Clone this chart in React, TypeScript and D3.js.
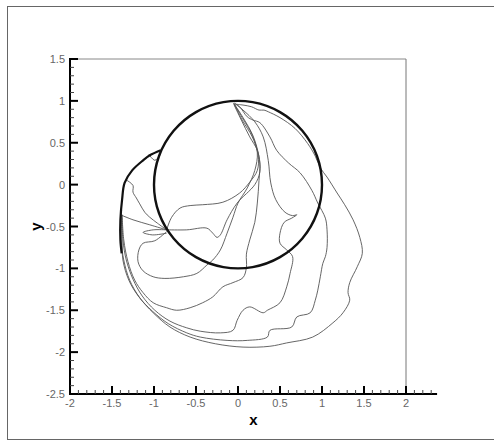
import React from "react";
import * as d3 from "d3";

// tick values
const xTicks = [-2, -1.5, -1, -0.5, 0, 0.5, 1, 1.5, 2];
const yTicks = [-2.5, -2, -1.5, -1, -0.5, 0, 0.5, 1, 1.5];

// body outline (thick)
const cylinder: [number, number][] = [
  [1.0, 0], [0.94, 0.342], [0.766, 0.643], [0.5, 0.866], [0.174, 0.985],
  [-0.174, 0.985], [-0.5, 0.866], [-0.766, 0.643], [-0.94, 0.342], [-1.0, 0],
  [-0.94, -0.342], [-0.766, -0.643], [-0.5, -0.866], [-0.174, -0.985],
  [0.174, -0.985], [0.5, -0.866], [0.766, -0.643], [0.94, -0.342],
];

// left shock front (thick)
const shockFront: [number, number][] = [
  [-0.92, 0.41], [-1.05, 0.35], [-1.13, 0.29], [-1.26, 0.17], [-1.35, 0.02],
  [-1.38, -0.18], [-1.4, -0.42], [-1.4, -0.66], [-1.385, -0.82],
];

// thin contour lines
const contourOuter: [number, number][] = [
  [-1.385, -0.3], [-1.39, -0.66], [-1.36, -0.9], [-1.29, -1.14], [-1.17, -1.35],
  [-1.01, -1.53], [-0.81, -1.7], [-0.57, -1.82], [-0.27, -1.9], [0.06, -1.94],
  [0.38, -1.93], [0.58, -1.89], [0.89, -1.82], [1.13, -1.65], [1.25, -1.53],
  [1.33, -1.38], [1.31, -1.29], [1.33, -1.17], [1.42, -0.98], [1.48, -0.82],
  [1.45, -0.63], [1.37, -0.42], [1.27, -0.24], [1.18, -0.1], [1.06, 0.09],
  [0.98, 0.2], [0.92, 0.34], [0.83, 0.49], [0.68, 0.67], [0.5, 0.8], [0.36, 0.87],
  [0.31, 0.89], [0.25, 0.89], [0.16, 0.93], [0.06, 0.95], [-0.03, 0.96],
];

const contourB: [number, number][] = [
  [-1.39, -0.36], [-1.38, -0.66], [-1.37, -0.9], [-1.3, -1.14], [-1.18, -1.34],
  [-1.02, -1.51], [-0.83, -1.66], [-0.61, -1.77], [-0.45, -1.82], [-0.13, -1.86],
  [0.11, -1.86], [0.35, -1.82], [0.38, -1.74], [0.64, -1.7], [0.7, -1.58],
  [0.86, -1.53], [0.92, -1.38], [0.95, -1.26], [0.98, -1.1], [1.01, -0.94],
  [1.04, -0.86], [1.06, -0.75], [1.06, -0.54], [1.04, -0.4], [0.95, -0.22],
  [0.88, -0.07], [0.74, 0.14], [0.6, 0.26], [0.46, 0.41], [0.38, 0.57],
  [0.26, 0.74], [0.18, 0.77], [0.11, 0.81], [0.02, 0.93], [-0.04, 0.97],
];

const contourC: [number, number][] = [
  [-0.04, 0.97], [0.06, 0.89], [0.2, 0.75], [0.3, 0.57], [0.36, 0.29],
  [0.39, 0.02], [0.45, -0.18], [0.56, -0.33], [0.65, -0.37], [0.7, -0.36],
  [0.64, -0.4], [0.55, -0.45], [0.5, -0.58], [0.5, -0.7], [0.58, -0.78],
  [0.65, -0.86], [0.62, -1.06], [0.58, -1.22], [0.5, -1.41], [0.35, -1.5],
  [0.3, -1.53], [0.14, -1.46], [0.06, -1.5], [-0.01, -1.62], [-0.06, -1.74],
  [-0.21, -1.77], [-0.45, -1.75], [-0.61, -1.71], [-0.81, -1.63], [-0.99, -1.5],
  [-1.14, -1.33], [-1.25, -1.13], [-1.33, -0.9], [-1.37, -0.66], [-1.38, -0.36],
];

const contourD: [number, number][] = [
  [-1.38, -0.36], [-1.36, -0.66], [-1.31, -0.92], [-1.23, -1.14], [-1.13, -1.29],
  [-1.01, -1.41], [-0.85, -1.47], [-0.73, -1.5], [-0.57, -1.47], [-0.42, -1.41],
  [-0.3, -1.34], [-0.18, -1.22], [-0.06, -1.17], [0.06, -1.11], [0.1, -0.99],
  [0.1, -0.83], [0.14, -0.66], [0.2, -0.45], [0.23, -0.22], [0.25, 0.05],
  [0.26, 0.26], [0.23, 0.41], [0.14, 0.57], [0.04, 0.77], [-0.05, 0.96],
];

const contourE: [number, number][] = [
  [-0.05, 0.97], [0.05, 0.77], [0.17, 0.57], [0.23, 0.38], [0.2, 0.17],
  [0.11, -0.04], [0.0, -0.22], [-0.06, -0.39], [-0.13, -0.58], [-0.21, -0.78],
  [-0.3, -0.9], [-0.37, -0.96], [-0.49, -1.06], [-0.65, -1.1], [-0.87, -1.12],
  [-1.01, -1.1], [-1.13, -1.03], [-1.19, -0.92], [-1.18, -0.78], [-1.13, -0.7],
  [-0.99, -0.67], [-0.85, -0.56],
];

const contourF: [number, number][] = [
  [-0.05, 0.97], [0.05, 0.8], [0.17, 0.59], [0.24, 0.35], [0.23, 0.17],
  [0.14, 0.03], [0.02, -0.1], [-0.18, -0.21], [-0.42, -0.24], [-0.57, -0.25],
  [-0.69, -0.28], [-0.79, -0.39], [-0.85, -0.54],
];

const contourG: [number, number][] = [
  [-0.05, 0.97], [0.06, 0.8], [0.18, 0.58], [0.25, 0.33], [0.26, 0.15],
  [0.2, 0.0], [-0.01, -0.22], [-0.13, -0.42], [-0.21, -0.6], [-0.25, -0.63],
  [-0.3, -0.58], [-0.37, -0.52], [-0.61, -0.54], [-0.84, -0.54],
];

const contourH: [number, number][] = [
  [-1.4, -0.36], [-1.25, -0.42], [-1.05, -0.48], [-0.85, -0.54],
];

const contourI: [number, number][] = [
  [-1.32, 0.05], [-1.25, -0.01], [-1.25, -0.09], [-1.21, -0.16], [-1.17, -0.23],
  [-1.11, -0.33], [-1.05, -0.39], [-0.96, -0.46], [-0.85, -0.54],
];

const contourLoop: [number, number][] = [
  [-0.85, -0.54], [-1.01, -0.54], [-1.13, -0.57], [-1.02, -0.6], [-0.85, -0.58],
];

const contourTop: [number, number][] = [
  [-1.06, 0.36], [-0.99, 0.29], [-0.93, 0.35],
];

const contours = [
  contourOuter, contourB, contourC, contourD, contourE, contourF,
  contourG, contourH, contourI, contourLoop, contourTop,
];

const W = 494;
const H = 440;
const font = "'Liberation Sans', Arial, sans-serif";

export default function App() {
  const x = d3.scaleLinear().domain([-2, 2]).range([70, 406]);
  const y = d3.scaleLinear().domain([-2.5, 1.5]).range([394, 59]);
  const xEnd = x(2.37);

  const line = d3
    .line<[number, number]>()
    .x((d) => x(d[0]))
    .y((d) => y(d[1]))
    .curve(d3.curveCatmullRom.alpha(0.5));

  const closed = d3
    .line<[number, number]>()
    .x((d) => x(d[0]))
    .y((d) => y(d[1]))
    .curve(d3.curveCatmullRomClosed.alpha(0.5));

  const isMajor = (v: number) => Math.abs(v * 2 - Math.round(v * 2)) < 1e-6;
  const xMinor = d3.range(-20, 24).map((i) => i / 10).filter((v) => !isMajor(v));
  const yMinor = d3.range(-25, 15).map((i) => i / 10).filter((v) => !isMajor(v));

  return (
    <svg
      width={W}
      height={H}
      style={{ position: "absolute", left: 0, top: 0, background: "#fff" }}
      fontFamily={font}
    >
      <rect x={7.5} y={6.5} width={W} height={433} fill="none" stroke="#666" strokeWidth={1} />

      {/* plot frame */}
      <line x1={x(-2)} x2={x(2)} y1={y(1.5)} y2={y(1.5)} stroke="#888" strokeWidth={1} />
      <line x1={x(2)} x2={x(2)} y1={y(1.5)} y2={y(-2.5)} stroke="#777" strokeWidth={1} />

      {/* contours */}
      {contours.map((c, i) => (
        <path key={i} d={line(c) || ""} fill="none" stroke="#555" strokeWidth={0.9} />
      ))}
      <path d={line(shockFront) || ""} fill="none" stroke="#111" strokeWidth={2.2} />
      <path d={closed(cylinder) || ""} fill="none" stroke="#111" strokeWidth={2.4} />

      {/* x axis */}
      <line x1={x(-2) - 1} x2={xEnd} y1={y(-2.5)} y2={y(-2.5)} stroke="#000" strokeWidth={2} />
      {xMinor.map((v) => (
        <line key={"xm" + v} x1={x(v)} x2={x(v)} y1={y(-2.5)} y2={y(-2.5) - 4} stroke="#444" strokeWidth={1} />
      ))}
      {xTicks.map((v) => (
        <g key={"xt" + v}>
          <line x1={x(v)} x2={x(v)} y1={y(-2.5)} y2={y(-2.5) - 8} stroke="#000" strokeWidth={2} />
          <text x={x(v)} y={y(-2.5) + 13} textAnchor="middle" fontSize={11} fill="#666">
            {String(v)}
          </text>
        </g>
      ))}
      <text x={(x(-2) + xEnd) / 2} y={425} textAnchor="middle" fontSize={15} fontWeight="bold" fill="#000">
        x
      </text>

      {/* y axis */}
      <line x1={x(-2)} x2={x(-2)} y1={y(1.5) - 1} y2={y(-2.5)} stroke="#000" strokeWidth={2} />
      {yMinor.map((v) => (
        <line key={"ym" + v} x1={x(-2)} x2={x(-2) + 4} y1={y(v)} y2={y(v)} stroke="#444" strokeWidth={1} />
      ))}
      {yTicks.map((v) => (
        <g key={"yt" + v}>
          <line x1={x(-2)} x2={x(-2) + 8} y1={y(v)} y2={y(v)} stroke="#000" strokeWidth={2} />
          <text x={x(-2) - 5} y={y(v) + 4} textAnchor="end" fontSize={11} fill="#666">
            {String(v)}
          </text>
        </g>
      ))}
      <text
        transform={`translate(41, ${(y(1.5) + y(-2.5)) / 2}) rotate(-90)`}
        textAnchor="middle"
        fontSize={15}
        fontWeight="bold"
        fill="#000"
      >
        y
      </text>
    </svg>
  );
}
